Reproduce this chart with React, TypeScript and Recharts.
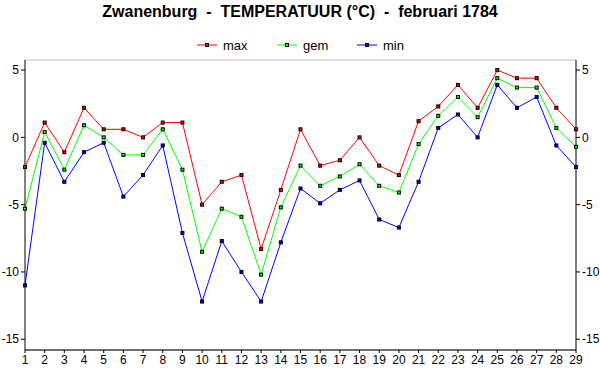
import { LineChart, Line, XAxis, YAxis, CartesianGrid } from 'recharts'

const days = ['1','2','3','4','5','6','7','8','9','10','11','12','13','14','15','16','17','18','19','20','21','22','23','24','25','26','27','28','29']
const maxTemp = [-2.2, 1.1, -1.1, 2.2, 0.6, 0.6, 0.0, 1.1, 1.1, -5.0, -3.3, -2.8, -8.3, -3.9, 0.6, -2.1, -1.7, 0.0, -2.1, -2.8, 1.2, 2.3, 3.9, 2.2, 5.0, 4.4, 4.4, 2.2, 0.6]
const gemTemp = [-5.3, 0.4, -2.4, 0.9, 0.0, -1.3, -1.3, 0.6, -2.4, -8.5, -5.3, -5.9, -10.2, -5.2, -2.1, -3.6, -2.9, -2.0, -3.6, -4.1, -0.5, 1.6, 3.0, 1.5, 4.4, 3.7, 3.7, 0.7, -0.7]
const minTemp = [-11.0, -0.4, -3.3, -1.1, -0.4, -4.4, -2.8, -0.6, -7.1, -12.2, -7.7, -10.0, -12.2, -7.8, -3.8, -4.9, -3.9, -3.2, -6.1, -6.7, -3.3, 0.7, 1.7, 0.0, 3.9, 2.2, 3.0, -0.6, -2.2]
const yTicks = [-15, -10, -5, 0, 5]

const data = days.map((d, i) => ({ day: d, max: maxTemp[i], gem: gemTemp[i], min: minTemp[i] }))

const font = '"Liberation Sans", Arial, sans-serif'

const series = [
  { key: 'max', color: '#ff0000' },
  { key: 'gem', color: '#00ff00' },
  { key: 'min', color: '#0000ff' },
]

const squareDot = (color: string) => (props: any) => {
  const { cx, cy, index } = props
  if (cx == null || cy == null) return <g key={index} />
  return <rect key={index} x={cx - 1.5} y={cy - 1.5} width={3} height={3} fill={color} stroke="#000" strokeWidth={1} />
}

export default function App() {
  const tick = { fontSize: 12, fill: '#000', fontFamily: font }
  return (
    <div style={{ position: 'absolute', left: 0, top: 0, width: 600, height: 390, background: '#fff', fontFamily: font }}>
      <div style={{ position: 'absolute', top: 3, left: 0, width: 600, textAlign: 'center', fontSize: 16, fontWeight: 'bold', whiteSpace: 'pre' }}>
        {'Zwanenburg  -  TEMPERATUUR (°C)  -  februari 1784'}
      </div>
      <div style={{ position: 'absolute', top: 37, left: 197, display: 'flex', fontSize: 13 }}>
        {series.map(s => (
          <div key={s.key} style={{ display: 'flex', alignItems: 'center', width: 80 }}>
            <svg width={22} height={16}>
              <line x1={0} y1={8} x2={20} y2={8} stroke={s.color} strokeWidth={1} />
              <rect x={8.5} y={6.5} width={3} height={3} fill={s.color} stroke="#000" strokeWidth={1} />
            </svg>
            <span style={{ marginLeft: 4 }}>{s.key}</span>
          </div>
        ))}
      </div>
      <LineChart width={600} height={390} data={data} margin={{ top: 60, right: 0, bottom: 0, left: 0 }}>
        <CartesianGrid vertical={false} stroke="#c0c0c0" />
        <XAxis dataKey="day" tick={tick} tickSize={3} tickLine={{ stroke: '#000' }} axisLine={{ stroke: '#000' }} height={40} interval={0} tickMargin={2} />
        <XAxis dataKey="day" xAxisId="top" orientation="top" tick={false} tickLine={false} axisLine={{ stroke: '#000' }} height={0} />
        <YAxis yAxisId="left" domain={[-15.8, 5.75]} ticks={yTicks} tick={tick} width={25} tickSize={4} tickMargin={2} tickLine={{ stroke: '#000' }} axisLine={{ stroke: '#000' }} allowDataOverflow />
        <YAxis yAxisId="right" orientation="right" domain={[-15.8, 5.75]} ticks={yTicks} tick={tick} width={24} tickSize={4} tickMargin={2} tickLine={{ stroke: '#000' }} axisLine={{ stroke: '#000' }} allowDataOverflow />
        {series.map(s => (
          <Line key={s.key} yAxisId="left" type="linear" dataKey={s.key} stroke={s.color} strokeWidth={1} dot={squareDot(s.color)} activeDot={false} isAnimationActive={false} />
        ))}
      </LineChart>
    </div>
  )
}
